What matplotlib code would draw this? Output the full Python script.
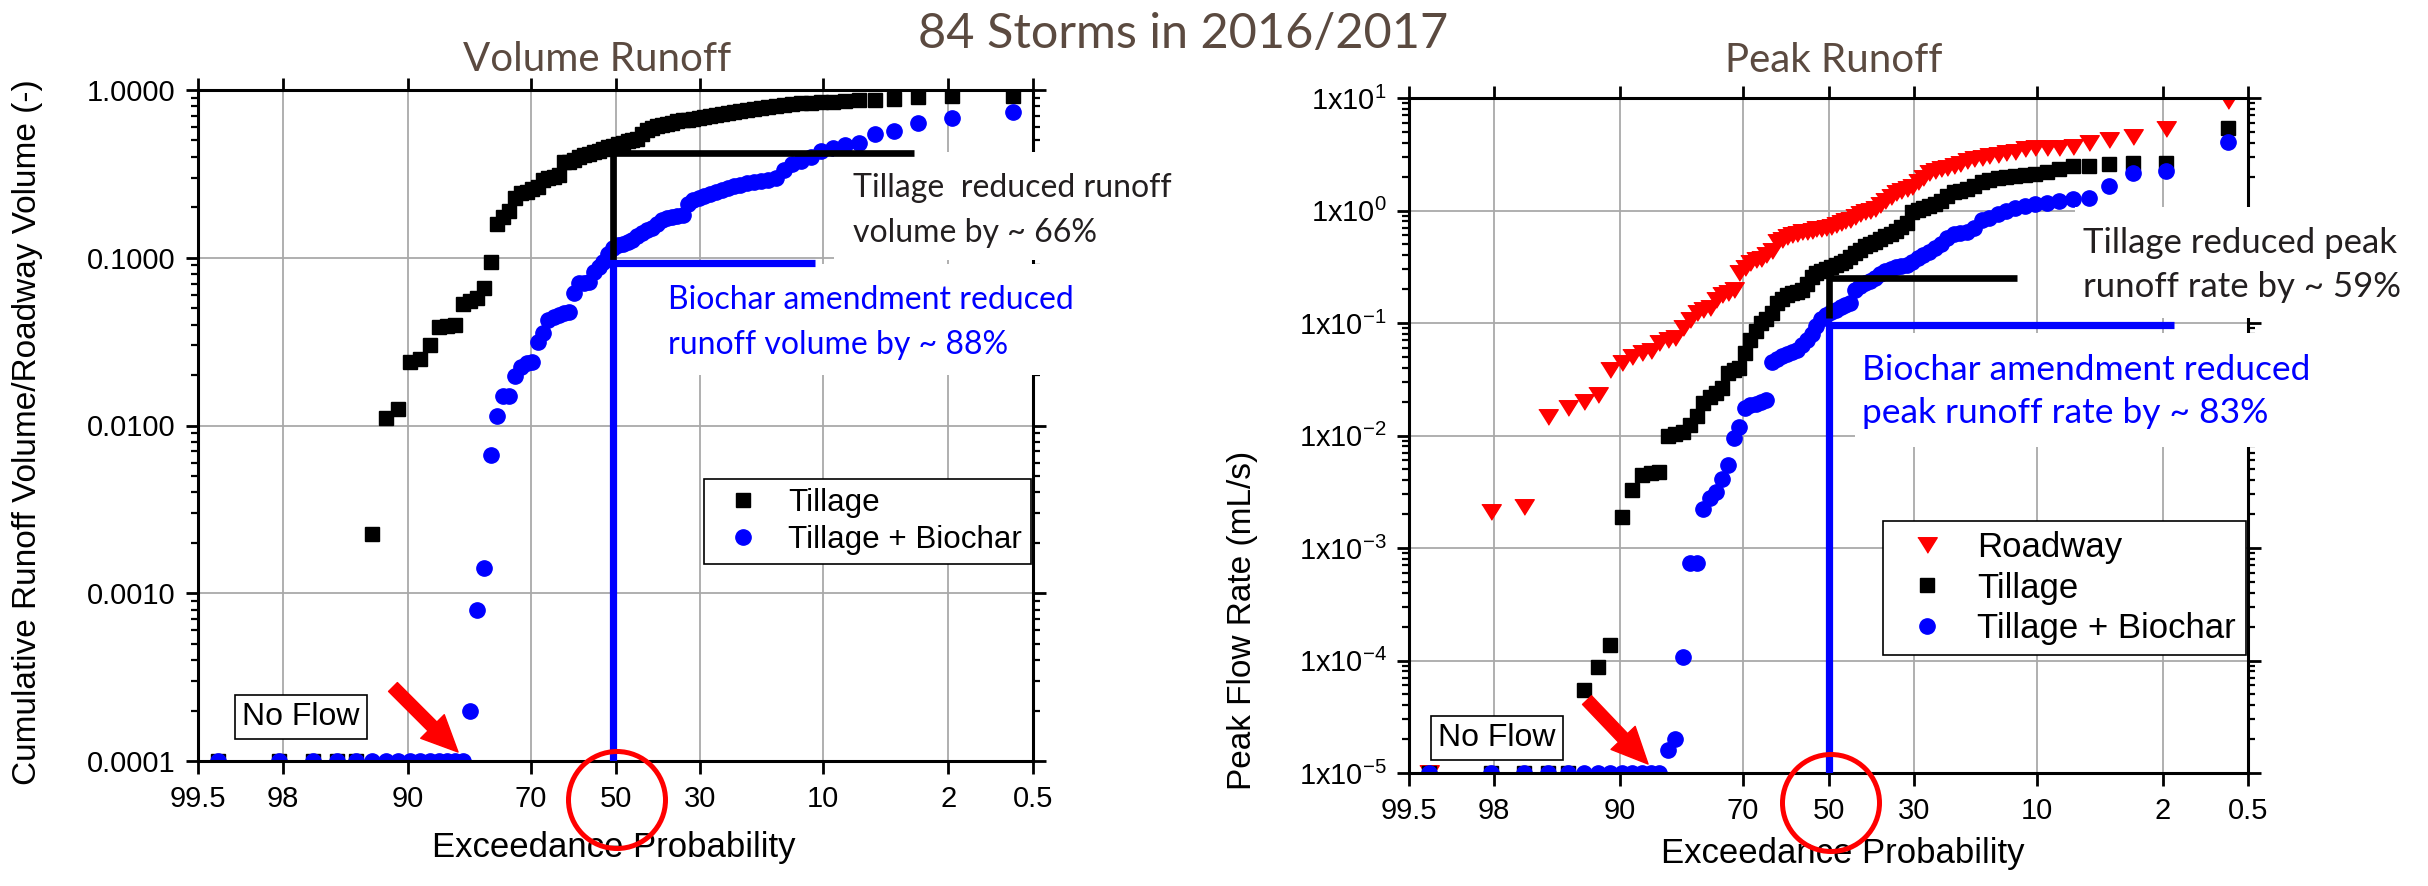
import numpy as np
import matplotlib
matplotlib.use('Agg')
import matplotlib.pyplot as plt
from matplotlib.patches import Ellipse, Rectangle
from matplotlib.ticker import FixedLocator, FixedFormatter, LogLocator, NullFormatter, NullLocator
from statistics import NormalDist

# ---------------- data (sorted ascending; 0 = no flow) ----------------
n_storms = 84
xtick_probs = [99.5, 98, 90, 70, 50, 30, 10, 2, 0.5]
xtick_labels = ['99.5', '98', '90', '70', '50', '30', '10', '2', '0.5']

vol_tillage = [0, 0, 0, 0, 0, 0.00225, 0.0111, 0.0125, 0.0239, 0.0249,
               0.0302, 0.0387, 0.0392, 0.0397, 0.0530, 0.0552, 0.0575, 0.0661, 0.0944, 0.159,
               0.175, 0.189, 0.227, 0.243, 0.247, 0.257, 0.264, 0.290, 0.299, 0.303,
               0.313, 0.370, 0.372, 0.383, 0.398, 0.409, 0.415, 0.425, 0.435, 0.445,
               0.455, 0.465, 0.475, 0.485, 0.495, 0.500, 0.510, 0.545, 0.575, 0.595,
               0.610, 0.620, 0.628, 0.640, 0.650, 0.658, 0.665, 0.675, 0.685, 0.693,
               0.700, 0.710, 0.720, 0.728, 0.738, 0.750, 0.760, 0.772, 0.785, 0.797,
               0.808, 0.818, 0.825, 0.833, 0.840, 0.846, 0.852, 0.860, 0.868, 0.874,
               0.885, 0.905, 0.915, 0.925]
vol_biochar = [0, 0, 0, 0, 0, 0, 0, 0, 0, 0,
               0, 0, 0, 0, 0, 0.0002, 0.00079, 0.00141, 0.00667, 0.0114,
               0.0149, 0.0150, 0.0197, 0.0224, 0.0235, 0.0240, 0.0316, 0.0355, 0.0426, 0.0442,
               0.0456, 0.0471, 0.0477, 0.0614, 0.0704, 0.0710, 0.0720, 0.0826, 0.0885, 0.0947,
               0.105, 0.114, 0.119, 0.121, 0.124, 0.128, 0.134, 0.140, 0.146, 0.150,
               0.158, 0.167, 0.172, 0.176, 0.178, 0.181, 0.210, 0.220, 0.226, 0.232,
               0.240, 0.246, 0.253, 0.261, 0.267, 0.272, 0.278, 0.282, 0.287, 0.291,
               0.298, 0.335, 0.360, 0.375, 0.398, 0.430, 0.450, 0.470, 0.485, 0.550,
               0.570, 0.636, 0.681, 0.740]

peak_roadway = [0, 0.0021, 0.0023, 0.0146, 0.0176, 0.0199, 0.0229, 0.0382, 0.0441, 0.0499,
                0.054, 0.056, 0.066, 0.071, 0.074, 0.090, 0.106, 0.123, 0.131, 0.136,
                0.160, 0.177, 0.184, 0.196, 0.28, 0.31, 0.34, 0.36, 0.37, 0.40,
                0.44, 0.52, 0.55, 0.58, 0.60, 0.62, 0.64, 0.65, 0.66, 0.68,
                0.69, 0.70, 0.72, 0.75, 0.78, 0.80, 0.83, 0.87, 0.93, 0.97,
                1.00, 1.04, 1.12, 1.22, 1.32, 1.44, 1.50, 1.55, 1.62, 1.78,
                1.95, 2.15, 2.25, 2.32, 2.40, 2.50, 2.60, 2.75, 2.85, 2.95,
                3.05, 3.12, 3.22, 3.33, 3.50, 3.57, 3.59, 3.60, 3.66, 3.95,
                4.23, 4.50, 5.30, 9.5]
peak_tillage = [0, 0, 0, 0, 0, 5.5e-5, 8.8e-5, 1.37e-4, 0.0019, 0.0033,
                0.0045, 0.00465, 0.00475, 0.0099, 0.0103, 0.0107, 0.0125, 0.0150, 0.0195, 0.022,
                0.024, 0.0264, 0.036, 0.038, 0.040, 0.054, 0.071, 0.085, 0.100, 0.108,
                0.123, 0.150, 0.165, 0.177, 0.183, 0.189, 0.196, 0.220, 0.255, 0.278,
                0.290, 0.305, 0.315, 0.330, 0.340, 0.355, 0.390, 0.420, 0.450, 0.480,
                0.505, 0.530, 0.560, 0.590, 0.620, 0.660, 0.720, 0.780, 0.960, 1.02,
                1.06, 1.10, 1.15, 1.22, 1.35, 1.45, 1.48, 1.55, 1.65, 1.78,
                1.88, 1.95, 1.98, 2.01, 2.05, 2.10, 2.20, 2.35, 2.48, 2.50,
                2.59, 2.64, 2.64, 5.4]
peak_biochar = [0, 0, 0, 0, 0, 0, 0, 0, 0, 0,
                0, 0, 0, 1.6e-5, 2.0e-5, 1.07e-4, 7.4e-4, 7.4e-4, 0.0022, 0.0028,
                0.00315, 0.0041, 0.0055, 0.0095, 0.0119, 0.0175, 0.0187, 0.0192, 0.0197, 0.0207,
                0.045, 0.048, 0.051, 0.053, 0.055, 0.058, 0.064, 0.070, 0.080, 0.095,
                0.108, 0.118, 0.124, 0.130, 0.138, 0.145, 0.152, 0.195, 0.215, 0.228,
                0.238, 0.250, 0.270, 0.290, 0.305, 0.315, 0.322, 0.330, 0.350, 0.375,
                0.405, 0.430, 0.462, 0.50, 0.575, 0.612, 0.625, 0.640, 0.70, 0.830,
                0.86, 0.94, 1.00, 1.05, 1.10, 1.14, 1.17, 1.22, 1.27, 1.29,
                1.65, 2.15, 2.25, 4.06]

# ---------------- helpers ----------------
W, H = 2428, 886
ND = NormalDist()
_ppf = np.vectorize(ND.inv_cdf, otypes=[float])
_cdf = np.vectorize(ND.cdf, otypes=[float])


def fwd(p):
    # probability (%) -> standard normal quantile (increasing)
    p = np.asarray(p, dtype=float)
    q = np.clip(p / 100.0, 1e-9, 1 - 1e-9)
    return _ppf(q)


def inv(z):
    z = np.asarray(z, dtype=float)
    return 100.0 * _cdf(z)


def exceedance(vals):
    n = len(vals)
    rank = np.arange(1, n + 1)  # ascending order
    return (n + 0.6 - rank) / (n + 0.2) * 100.0


def floor_zero(vals, floor):
    v = np.asarray(vals, dtype=float)
    return np.where(v > 0, v, floor)


def fx(px):
    return px / W


def fy(py):
    return 1 - py / H


plt.rcParams['font.family'] = ['Liberation Sans', 'DejaVu Sans']
plt.rcParams['mathtext.fontset'] = 'custom'
plt.rcParams['mathtext.rm'] = 'Liberation Sans'
plt.rcParams['mathtext.it'] = 'Liberation Sans:italic'
plt.rcParams['mathtext.bf'] = 'Liberation Sans:bold'

fig = plt.figure(figsize=(W / 100, H / 100), dpi=100)
fig.patch.set_facecolor('white')

ax1 = fig.add_axes([fx(198), fy(761), (1033 - 198) / W, (761 - 90) / H])
ax2 = fig.add_axes([fx(1409), fy(773), (2248 - 1409) / W, (773 - 98) / H])

BLUE = '#0000ff'
RED = '#ff0000'
tri = [(-1, 0.8), (1, 0.8), (0, -0.8)]
TICK_FS = 21
ANNO_FONT = ['Lato', 'DejaVu Sans']
TITLE_COLOR = '#5b4a40'


def style_axes(ax, ylo, yhi, ylabels):
    ax.set_xscale('function', functions=(fwd, inv))
    ax.set_yscale('log')
    ax.set_xlim(99.5, 0.5)
    ax.set_ylim(ylo, yhi)
    ax.xaxis.set_major_locator(FixedLocator(xtick_probs))
    ax.xaxis.set_major_formatter(FixedFormatter(xtick_labels))
    ax.xaxis.set_minor_locator(NullLocator())
    decades = [10.0 ** e for e in range(int(round(np.log10(ylo))), int(round(np.log10(yhi))) + 1)]
    ax.yaxis.set_major_locator(FixedLocator(decades))
    ax.yaxis.set_major_formatter(FixedFormatter(ylabels))
    ax.yaxis.set_minor_locator(LogLocator(base=10, subs=np.arange(2, 10), numticks=50))
    ax.yaxis.set_minor_formatter(NullFormatter())
    for s in ax.spines.values():
        s.set_linewidth(2.2)
    ax.tick_params(which='both', direction='out', top=True, right=True, width=2.0)
    ax.tick_params(which='major', length=9, labelsize=TICK_FS)
    ax.tick_params(which='minor', length=5, width=1.6)
    ax.tick_params(axis='x', which='major', pad=8)
    ax.tick_params(axis='y', which='major', pad=7)
    ax.grid(True, which='major', color='#a9a9a9', lw=1.3)


# ---------------- left: volume ----------------
style_axes(ax1, 1e-4, 1.0, ['0.0001', '0.0010', '0.0100', '0.1000', '1.0000'])
ax1.plot(exceedance(vol_tillage), floor_zero(vol_tillage, 1e-4), ls='none', marker='s',
         ms=9.6, color='black', mec='black', label='Tillage', zorder=2)
ax1.plot(exceedance(vol_biochar), floor_zero(vol_biochar, 1e-4), ls='none', marker='o',
         ms=11, color=BLUE, mec=BLUE, label='Tillage + Biochar', zorder=2.1)

# ---------------- right: peak ----------------
peak_labels = ['1x10$^{-5}$', '1x10$^{-4}$', '1x10$^{-3}$', '1x10$^{-2}$',
               '1x10$^{-1}$', '1x10$^{0}$', '1x10$^{1}$']
style_axes(ax2, 1e-5, 10.0, peak_labels)
ax2.plot(exceedance(peak_roadway), floor_zero(peak_roadway, 1e-5), ls='none', marker=tri,
         ms=14, color=RED, mec=RED, label='Roadway', zorder=2)
ax2.plot(exceedance(peak_tillage), floor_zero(peak_tillage, 1e-5), ls='none', marker='s',
         ms=9.6, color='black', mec='black', label='Tillage', zorder=2.05)
ax2.plot(exceedance(peak_biochar), floor_zero(peak_biochar, 1e-5), ls='none', marker='o',
         ms=11, color=BLUE, mec=BLUE, label='Tillage + Biochar', zorder=2.1)

# ---------------- legends ----------------
for ax, anchor, fs, hl, lsp in ((ax1, (0.606, 0.420), 22.6, 1.92, 0.22),
                                (ax2, (0.565, 0.373), 25, 1.95, 0.22)):
    leg = ax.legend(loc='upper left', bbox_to_anchor=anchor, fontsize=fs, frameon=True,
                    fancybox=False, edgecolor='black', framealpha=1, borderpad=0.28,
                    handlelength=hl, handletextpad=0.48, labelspacing=lsp, numpoints=1,
                    borderaxespad=0)
    leg.get_frame().set_linewidth(1.2)
    leg.set_zorder(6)

# ---------------- white boxes behind annotation texts ----------------
def white_box(ax, x0, y0, x1, y1):
    r = Rectangle((fx(x0), fy(y1)), (x1 - x0) / W, (y1 - y0) / H, transform=fig.transFigure,
                  facecolor='white', edgecolor='none', clip_on=False, zorder=3)
    ax.add_artist(r)

white_box(ax1, 834, 152, 1100, 260)
white_box(ax1, 660, 264, 1095, 375)
white_box(ax2, 2075, 207, 2400, 318)
white_box(ax2, 1855, 333, 2330, 447)

# ---------------- 50% guide lines ----------------
ax1.plot([3.28, 50.5, 50.5], [0.42, 0.42, 0.097], color='black', lw=4.8,
         solid_joinstyle='miter', solid_capstyle='butt', zorder=4)
ax1.plot([10.95, 50.5, 50.5], [0.093, 0.093, 1e-4], color=BLUE, lw=5.2,
         solid_joinstyle='miter', solid_capstyle='butt', zorder=4)
ax2.plot([12.4, 50, 50], [0.249, 0.249, 0.111], color='black', lw=4.8,
         solid_joinstyle='miter', solid_capstyle='butt', zorder=4)
ax2.plot([1.70, 50, 50], [0.096, 0.096, 1e-5], color=BLUE, lw=5.2,
         solid_joinstyle='miter', solid_capstyle='butt', zorder=4)

# ---------------- arrows & "No Flow" ----------------
for ax, tail, tip, nf in ((ax1, (0.2335, 0.1103), (0.3114, 0.0134), (0.1236, 0.0656)),
                          (ax2, (0.2122, 0.108), (0.2849, 0.0133), (0.1048, 0.0519))):
    ax.annotate('', xy=tip, xytext=tail, xycoords='axes fraction', textcoords='axes fraction',
                arrowprops=dict(arrowstyle='simple,head_width=24,head_length=26,tail_width=9',
                                mutation_scale=1, color=RED, shrinkA=0, shrinkB=0), zorder=7)
    ax.text(nf[0], nf[1], 'No Flow', transform=ax.transAxes, fontsize=23, ha='center', va='center',
            bbox=dict(boxstyle='square,pad=0.22', facecolor='white', edgecolor='black', lw=1.2),
            zorder=7)

# ---------------- red circles around 50 ----------------
for cx, cy in ((617, 800), (1831, 803)):
    fig.add_artist(Ellipse((fx(cx), fy(cy)), 97 / W, 97 / H, transform=fig.transFigure,
                           fill=False, edgecolor=RED, lw=3.6, zorder=10))

# ---------------- annotation texts ----------------
DARK = '#231f20'
def anno(x, y, s, color, fs):
    fig.text(fx(x), fy(y), s, fontsize=fs, family=ANNO_FONT, color=color, ha='left', va='baseline')

anno(853, 197, 'Tillage  reduced runoff', DARK, 23)
anno(853, 242, 'volume by ~ 66%', DARK, 23)
anno(668, 309, 'Biochar amendment reduced', BLUE, 23)
anno(668, 354, 'runoff volume by ~ 88%', BLUE, 23)
anno(2083, 253, 'Tillage reduced peak', DARK, 25)
anno(2083, 297, 'runoff rate by ~ 59%', DARK, 25)
anno(1862, 380, 'Biochar amendment reduced', BLUE, 25.5)
anno(1862, 423, 'peak runoff rate by ~ 83%', BLUE, 25.5)

# ---------------- titles & axis labels ----------------
fig.text(fx(1183), fy(48), '84 Storms in 2016/2017', fontsize=35, family=ANNO_FONT,
         color=TITLE_COLOR, ha='center', va='baseline')
fig.text(fx(597), fy(71), 'Volume Runoff', fontsize=29, family=ANNO_FONT,
         color=TITLE_COLOR, ha='center', va='baseline')
fig.text(fx(1834), fy(72), 'Peak Runoff', fontsize=29, family=ANNO_FONT,
         color=TITLE_COLOR, ha='center', va='baseline')

fig.text(fx(28), fy(432), 'Cumulative Runoff Volume/Roadway Volume (-)', fontsize=24,
         rotation=90, ha='center', va='center')
fig.text(fx(1243), fy(620), 'Peak Flow Rate (mL/s)', fontsize=24,
         rotation=90, ha='center', va='center')
fig.text(fx(614), fy(848), 'Exceedance Probability', fontsize=25, ha='center', va='center')
fig.text(fx(1843), fy(853), 'Exceedance Probability', fontsize=25, ha='center', va='center')

fig.savefig('out.png', dpi=100, facecolor='white')
